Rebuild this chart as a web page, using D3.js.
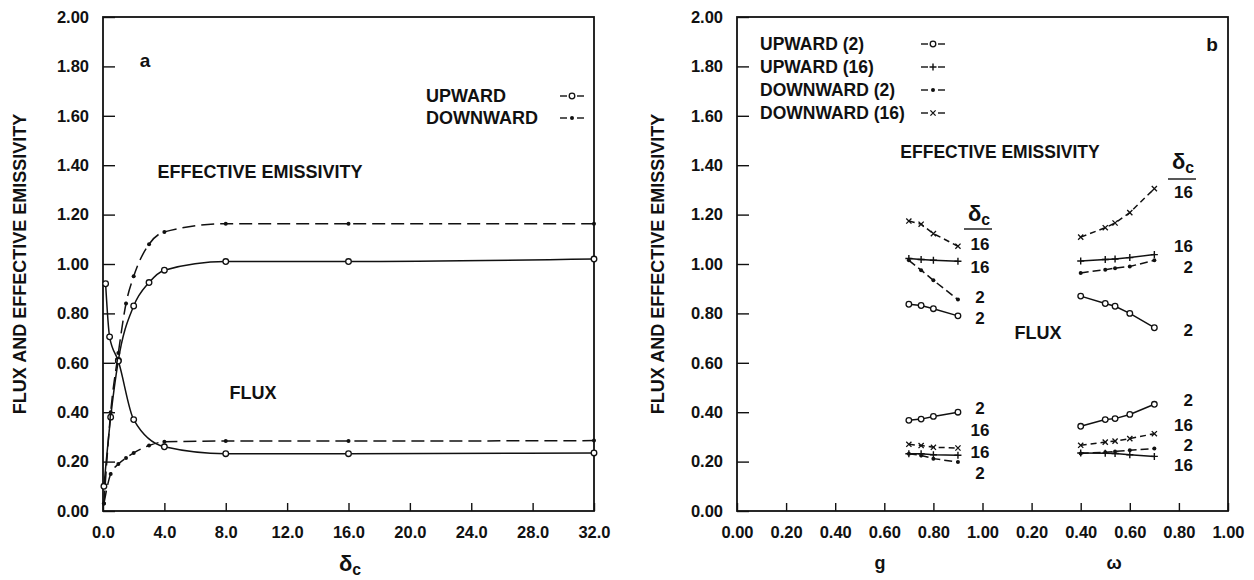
<!DOCTYPE html>
<html>
<head>
<meta charset="utf-8">
<script src="https://cdn.jsdelivr.net/npm/d3@7"></script>
<style>
    body { margin: 0; background: #fff; }
    text { font-family: "Liberation Sans", Arial, Helvetica, sans-serif; font-weight: bold; fill: #111; }
</style>
</head>
<body>
<svg id="chart" width="1254" height="580"></svg>
<script>
// ---- panel a : flux / effective emissivity vs cloud optical depth ----
var deltaUpEmis = [0.06, 0.5, 1, 2, 3, 4, 8, 16, 32];
var upEmis      = [0.10, 0.38, 0.61, 0.83, 0.925, 0.975, 1.01, 1.01, 1.02];
var deltaUpFlux = [0.17, 0.43, 1, 2, 4, 8, 16, 32];
var upFlux      = [0.92, 0.705, 0.607, 0.37, 0.26, 0.232, 0.232, 0.235];
var deltaDown   = [0.06, 0.5, 1, 1.5, 2, 3, 4, 8, 16, 32];
var downEmis    = [0.03, 0.40, 0.64, 0.84, 0.95, 1.08, 1.13, 1.163, 1.163, 1.163];
var downFlux    = [0.03, 0.15, 0.19, 0.215, 0.235, 0.265, 0.28, 0.283, 0.283, 0.285];

// ---- panel b : sensitivity to g and omega, for delta_c = 2 and 16 ----
var gVals     = [0.7, 0.75, 0.8, 0.9];
var omegaVals = [0.4, 0.5, 0.54, 0.6, 0.7];

var gEmisUp2     = [0.837, 0.832, 0.819, 0.79];
var gEmisUp16    = [1.022, 1.018, 1.015, 1.011];
var gEmisDown2   = [1.015, 0.975, 0.934, 0.856];
var gEmisDown16  = [1.174, 1.161, 1.123, 1.072];
var gFluxUp2     = [0.367, 0.372, 0.383, 0.40];
var gFluxUp16    = [0.232, 0.232, 0.228, 0.226];
var gFluxDown2   = [0.232, 0.225, 0.212, 0.198];
var gFluxDown16  = [0.27, 0.265, 0.258, 0.255];

var wEmisUp2     = [0.87, 0.84, 0.829, 0.80, 0.742];
var wEmisUp16    = [1.012, 1.018, 1.02, 1.026, 1.038];
var wEmisDown2   = [0.964, 0.977, 0.983, 0.99, 1.015];
var wEmisDown16  = [1.109, 1.147, 1.166, 1.208, 1.305];
var wFluxUp2     = [0.343, 0.37, 0.374, 0.391, 0.432];
var wFluxUp16    = [0.235, 0.234, 0.233, 0.228, 0.221];
var wFluxDown2   = [0.233, 0.238, 0.241, 0.246, 0.253];
var wFluxDown16  = [0.266, 0.279, 0.283, 0.293, 0.313];

// ---- ticks ----
var yTicks = [0, 0.2, 0.4, 0.6, 0.8, 1.0, 1.2, 1.4, 1.6, 1.8, 2.0];
var xTicksA = [0, 4, 8, 12, 16, 20, 24, 28, 32];
var xTicksB = [0, 0.2, 0.4, 0.6, 0.8, 1.0, 1.2, 1.4, 1.6, 1.8, 2.0];
var xTickLabelsB = ["0.00", "0.20", "0.40", "0.60", "0.80", "1.00", "0.20", "0.40", "0.60", "0.80", "1.00"];

var INK = "#111";
var FONT = '"Liberation Sans", Arial, Helvetica, sans-serif';

var svg = d3.select("#chart");

var y = d3.scaleLinear().domain([0, 2]).range([511, 17]);
var xA = d3.scaleLinear().domain([0, 32]).range([103, 594]);
var xB = d3.scaleLinear().domain([0, 2]).range([737, 1228]);
var xG = function (v) { return xB(v); };
var xW = function (v) { return xB(1 + v); };

function styleAxis(g) {
    g.select(".domain").remove();
    g.selectAll(".tick line")
        .style("stroke", INK)
        .style("stroke-width", "1.4px");
    g.selectAll(".tick text")
        .style("fill", INK)
        .style("font-family", FONT)
        .style("font-weight", "bold")
        .style("font-size", "16.5px");
}

function frame(scale) {
    var r = scale.range();
    svg.append("rect")
        .attr("x", r[0])
        .attr("y", y(2))
        .attr("width", r[1] - r[0])
        .attr("height", y(0) - y(2))
        .style("fill", "none")
        .style("stroke", INK)
        .style("stroke-width", "1.8px");
}

function yAxis(scale) {
    var g = svg.append("g")
        .attr("transform", "translate(" + scale.range()[0] + ",0)")
        .call(d3.axisLeft(y)
            .tickValues(yTicks)
            .tickFormat(d3.format(".2f"))
            .tickSizeInner(-12)
            .tickSizeOuter(0)
            .tickPadding(14));
    styleAxis(g);
}

function xAxis(scale, ticks, fmt) {
    var g = svg.append("g")
        .attr("transform", "translate(0," + y(0) + ")")
        .call(d3.axisBottom(scale)
            .tickValues(ticks)
            .tickFormat(fmt)
            .tickSizeInner(-8)
            .tickSizeOuter(0)
            .tickPadding(15));
    styleAxis(g);
}

function marker(g, type, cx, cy) {
    if (type == "circle") {
        g.append("circle").attr("cx", cx).attr("cy", cy).attr("r", 2.8)
            .style("fill", "#fff").style("stroke", INK).style("stroke-width", "1.3px");
    } else if (type == "dot") {
        g.append("circle").attr("cx", cx).attr("cy", cy).attr("r", 2)
            .style("fill", INK);
    } else if (type == "plus") {
        g.append("path")
            .attr("d", "M" + (cx - 3.5) + "," + cy + "H" + (cx + 3.5) + "M" + cx + "," + (cy - 3.5) + "V" + (cy + 3.5))
            .style("stroke", INK).style("stroke-width", "1.4px");
    } else if (type == "cross") {
        var s = 2.6;
        g.append("path")
            .attr("d", "M" + (cx - s) + "," + (cy - s) + "L" + (cx + s) + "," + (cy + s) +
                       "M" + (cx - s) + "," + (cy + s) + "L" + (cx + s) + "," + (cy - s))
            .style("stroke", INK).style("stroke-width", "1.3px");
    }
}

function series(xs, vs, xScale, opts) {
    var pts = xs.map(function (d, i) { return [xScale(d), y(vs[i])]; });
    var g = svg.append("g");
    g.append("path")
        .attr("d", d3.line().curve(opts.smooth ? d3.curveMonotoneX : d3.curveLinear)(pts))
        .style("fill", "none")
        .style("stroke", INK)
        .style("stroke-width", "1.5px")
        .style("stroke-dasharray", opts.dash || null);
    pts.forEach(function (p) { marker(g, opts.marker, p[0], p[1]); });
}

function label(x, yy, txt, size, anchor) {
    return svg.append("text")
        .attr("x", x)
        .attr("y", yy)
        .attr("dy", "0.35em")
        .attr("text-anchor", anchor || "middle")
        .style("font-size", size + "px")
        .text(txt);
}

function deltaC(x, yy, size, bar) {
    var t = svg.append("text")
        .attr("x", x)
        .attr("y", yy)
        .attr("dy", "0.35em")
        .attr("text-anchor", "middle")
        .style("font-size", size + "px");
    t.append("tspan").text("δ");
    t.append("tspan").attr("dy", "0.3em").style("font-size", (size * 0.72) + "px").text("c");
    if (bar) {
        svg.append("line")
            .attr("x1", x - 15).attr("x2", x + 13)
            .attr("y1", bar).attr("y2", bar)
            .style("stroke", INK).style("stroke-width", "1.4px");
    }
}

function legendSymbol(cx, cy, type, dashed) {
    var g = svg.append("g");
    var half = dashed ? [[-13, -9], [-7, -4], [4, 7], [9, 13]] : [[-12, -5], [5, 12]];
    half.forEach(function (s) {
        g.append("line")
            .attr("x1", cx + s[0]).attr("x2", cx + s[1])
            .attr("y1", cy).attr("y2", cy)
            .style("stroke", INK).style("stroke-width", "1.4px");
    });
    marker(g, type, cx, cy);
}

// ================= panel a =================
yAxis(xA);
xAxis(xA, xTicksA, d3.format(".1f"));
frame(xA);

series(deltaUpEmis, upEmis, xA, { smooth: true, marker: "circle" });
series(deltaUpFlux, upFlux, xA, { smooth: true, marker: "circle" });
series(deltaDown, downEmis, xA, { smooth: true, marker: "dot", dash: "13,6" });
series(deltaDown, downFlux, xA, { smooth: true, marker: "dot", dash: "13,6" });

label(145, 60, "a", 19);
label(260, 172, "EFFECTIVE EMISSIVITY", 18);
label(253, 393, "FLUX", 18);
label(426, 96, "UPWARD", 18, "start");
label(426, 118, "DOWNWARD", 18, "start");
legendSymbol(572, 96, "circle", false);
legendSymbol(572, 118, "dot", false);

label(20, 264, "FLUX AND EFFECTIVE EMISSIVITY", 18).attr("transform", "rotate(-90,20,264)");
deltaC(350, 563, 22);

// ================= panel b =================
yAxis(xB);
xAxis(xB, xTicksB, function (d, i) { return xTickLabelsB[i]; });
frame(xB);

var dashUp = null, dashDown2 = "8,4", dashDown16 = "6,4";

series(gVals, gEmisUp2, xG, { marker: "circle" });
series(gVals, gEmisUp16, xG, { marker: "plus" });
series(gVals, gEmisDown2, xG, { marker: "dot", dash: dashDown2 });
series(gVals, gEmisDown16, xG, { marker: "cross", dash: dashDown16 });
series(gVals, gFluxUp2, xG, { marker: "circle" });
series(gVals, gFluxUp16, xG, { marker: "plus" });
series(gVals, gFluxDown2, xG, { marker: "dot", dash: dashDown2 });
series(gVals, gFluxDown16, xG, { marker: "cross", dash: dashDown16 });

series(omegaVals, wEmisUp2, xW, { marker: "circle" });
series(omegaVals, wEmisUp16, xW, { marker: "plus" });
series(omegaVals, wEmisDown2, xW, { marker: "dot", dash: dashDown2 });
series(omegaVals, wEmisDown16, xW, { marker: "cross", dash: dashDown16 });
series(omegaVals, wFluxUp2, xW, { marker: "circle" });
series(omegaVals, wFluxUp16, xW, { marker: "plus" });
series(omegaVals, wFluxDown2, xW, { marker: "dot", dash: dashDown2 });
series(omegaVals, wFluxDown16, xW, { marker: "cross", dash: dashDown16 });

// legend
label(760, 44, "UPWARD (2)", 17.5, "start");
label(760, 67, "UPWARD (16)", 17.5, "start");
label(760, 90, "DOWNWARD (2)", 17.5, "start");
label(760, 113, "DOWNWARD (16)", 17.5, "start");
legendSymbol(933, 44, "circle", false);
legendSymbol(933, 67, "plus", false);
legendSymbol(933, 90, "dot", false);
legendSymbol(933, 113, "cross", false);

label(1212, 44, "b", 19);
label(1000, 152, "EFFECTIVE EMISSIVITY", 17.5);
label(1038, 333, "FLUX", 18);

// delta_c curve labels, g side
deltaC(979, 213, 22, 229);
[["16", 244], ["16", 267], ["2", 297], ["2", 318], ["2", 408], ["16", 430], ["16", 452], ["2", 473]]
    .forEach(function (d) { label(980, d[1], d[0], 17); });
// delta_c curve labels, omega side
deltaC(1183, 161, 22, 179);
[["16", 192], ["16", 246], ["2", 267], ["2", 330], ["2", 400], ["16", 425], ["2", 445], ["16", 465]]
    .forEach(function (d) { label(1193, d[1], d[0], 17, "end"); });

label(658, 264, "FLUX AND EFFECTIVE EMISSIVITY", 18).attr("transform", "rotate(-90,658,264)");
label(880, 563, "g", 18);
label(1114, 563, "ω", 18);
</script>
</body>
</html>
